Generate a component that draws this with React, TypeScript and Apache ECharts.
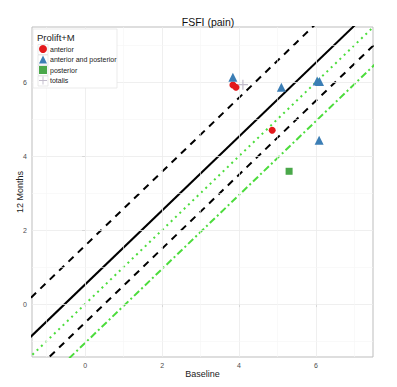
import React, { useEffect, useRef } from "react";
import * as echarts from "echarts";

const xMin = -1.38;
const xMax = 7.48;
const yMin = -1.43;
const yMax = 7.49;
const majorTicks = [0, 2, 4, 6];
const minorTicks = [-1, 1, 3, 5, 7];

const anterior = [[3.84, 5.92], [3.92, 5.86], [4.86, 4.7]];
const anteriorPosterior = [[3.84, 6.13], [5.1, 5.86], [6.03, 6.03], [6.09, 6.02], [6.08, 4.43]];
const posterior = [[5.3, 3.59]];
const totalis = [[4.1, 5.93]];
const legendNames = ["anterior", "anterior and posterior", "posterior", "totalis"];

// reference lines y = x + c
const solidIntercept = 0.53;
const dashedIntercepts = [1.58, -0.5];
const dottedIntercept = 0;
const dashDotIntercept = -1.05;

const FONT = "Liberation Sans, Arial, Helvetica, sans-serif";
const GREEN_LINE = "#4cdc3c";
const PLUS = "path://M4.4,0H5.6V4.4H10V5.6H5.6V10H4.4V5.6H0V4.4H4.4Z";

const linePts = (c: number) => [[xMin - 1, xMin - 1 + c], [xMax + 1, xMax + 1 + c]];

const LEG_TOP = 40;
const LEG_STEP = 10.5;

export default function App() {
  const ref = useRef<HTMLDivElement>(null);
  useEffect(() => {
    if (!ref.current) return;
    const chart = echarts.init(ref.current, null, { renderer: "svg" });
    const refLine = (name: string, c: number, color: string, type: any, width: number) => ({
      name,
      type: "line",
      data: linePts(c),
      showSymbol: false,
      symbol: "none",
      silent: true,
      clip: true,
      lineStyle: { color, type, width },
      z: 2,
    });
    const axisCommon = {
      type: "value",
      axisLine: { show: false },
      splitLine: { show: false },
      nameMoveOverlap: false,
      axisTick: { show: true, length: 3, customValues: majorTicks, lineStyle: { color: "#888", width: 1 } },
      axisLabel: {
        customValues: majorTicks,
        color: "#4d4d4d",
        fontSize: 7,
        fontFamily: FONT,
        margin: 5,
      },
    };
    const keyBoxes = legendNames.map((_, i) => ({
      type: "rect",
      shape: { x: 38, y: LEG_TOP + 5 + i * LEG_STEP - 0.5, width: 10, height: 10 },
      style: { fill: "#fff", stroke: "#e3e3e3", lineWidth: 0.8 },
      z: 11,
      silent: true,
    }));
    chart.setOption({
      animation: false,
      backgroundColor: "#fff",
      title: {
        text: "FSFI (pain)",
        left: 203,
        textAlign: "center",
        top: 11,
        textStyle: { fontSize: 10.5, fontWeight: "normal", fontFamily: FONT, color: "#111" },
      },
      grid: {
        left: 32,
        right: 24,
        top: 27,
        bottom: 30,
        show: true,
        borderColor: "#bdbdbd",
        borderWidth: 1,
        backgroundColor: "#fff",
      },
      xAxis: {
        ...axisCommon,
        min: xMin,
        max: xMax,
        name: "Baseline",
        nameLocation: "middle",
        nameGap: 12,
        nameTextStyle: { fontSize: 9, fontFamily: FONT, color: "#222" },
      },
      yAxis: {
        ...axisCommon,
        min: yMin,
        max: yMax,
        name: "12 Months",
        nameLocation: "middle",
        nameGap: 8,
        nameTextStyle: { fontSize: 9, fontFamily: FONT, color: "#222" },
      },
      legend: {
        orient: "vertical",
        left: 34,
        top: LEG_TOP,
        itemWidth: 8,
        itemHeight: 8,
        itemGap: LEG_STEP - 8,
        z: 20,
        textStyle: { fontSize: 7, fontFamily: FONT, color: "#222", padding: [0, 0, 0, -2] },
        data: [
          { name: legendNames[0], icon: "circle" },
          { name: legendNames[1], icon: "triangle" },
          { name: legendNames[2], icon: "rect" },
          { name: legendNames[3], icon: PLUS },
        ],
      },
      graphic: [
        {
          type: "rect",
          shape: { x: 33, y: 29, width: 84, height: 59 },
          style: { fill: "#fff", stroke: "#e6e6e6", lineWidth: 0.8 },
          z: 10,
          silent: true,
        },
        ...keyBoxes,
        {
          type: "text",
          left: 37,
          top: 32,
          z: 20,
          style: { text: "Prolift+M", fontSize: 9.5, fontFamily: FONT, fill: "#222" },
        },
      ],
      series: [
        {
          name: "grid",
          type: "line",
          data: [],
          silent: true,
          markLine: {
            silent: true,
            symbol: "none",
            label: { show: false },
            data: [
              ...majorTicks.map((v) => ({ xAxis: v, lineStyle: { color: "#ebebeb", width: 0.8, type: "solid" } })),
              ...majorTicks.map((v) => ({ yAxis: v, lineStyle: { color: "#ebebeb", width: 0.8, type: "solid" } })),
              ...minorTicks.map((v) => ({ xAxis: v, lineStyle: { color: "#f5f5f5", width: 0.6, type: "solid" } })),
              ...minorTicks.map((v) => ({ yAxis: v, lineStyle: { color: "#f5f5f5", width: 0.6, type: "solid" } })),
            ],
          },
          z: 1,
        },
        refLine("upper", dashedIntercepts[0], "#000", [7, 6], 2),
        refLine("mean", solidIntercept, "#000", "solid", 2),
        refLine("identity", dottedIntercept, GREEN_LINE, [2, 4], 2),
        refLine("lower", dashedIntercepts[1], "#000", [7, 6], 2),
        refLine("limit", dashDotIntercept, GREEN_LINE, [7, 3, 2, 3], 2),
        {
          name: "anterior",
          type: "scatter",
          data: anterior,
          symbol: "circle",
          symbolSize: 7,
          itemStyle: { color: "#e3191c", opacity: 1 },
          z: 5,
        },
        {
          name: "anterior and posterior",
          type: "scatter",
          data: anteriorPosterior,
          symbol: "triangle",
          symbolSize: 9,
          itemStyle: { color: "#3b7eb5", opacity: 1 },
          z: 5,
        },
        {
          name: "posterior",
          type: "scatter",
          data: posterior,
          symbol: "rect",
          symbolSize: 7,
          itemStyle: { color: "#4aa84a", opacity: 1 },
          z: 5,
        },
        {
          name: "totalis",
          type: "scatter",
          data: totalis,
          symbol: PLUS,
          symbolSize: 10,
          itemStyle: { color: "#c2bccb", opacity: 1 },
          z: 5,
        },
      ],
    });
    return () => chart.dispose();
  }, []);
  return (
    <div
      ref={ref}
      style={{ position: "fixed", left: 0, top: 0, width: 397, height: 387 }}
    />
  );
}
